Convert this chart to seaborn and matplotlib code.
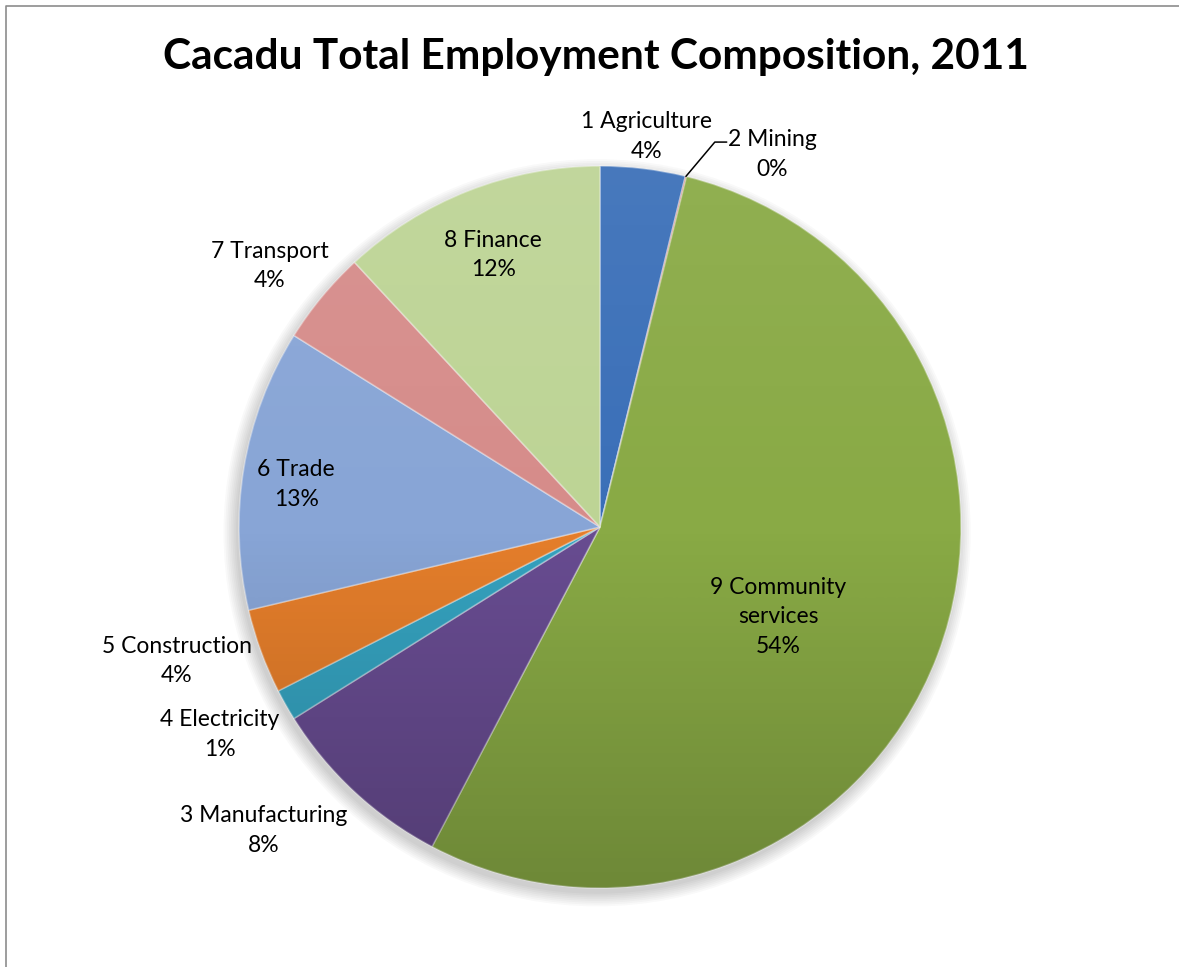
import numpy as np
import matplotlib
matplotlib.use("Agg")
import matplotlib.pyplot as plt
import seaborn as sns
from matplotlib.patches import Circle
from matplotlib.lines import Line2D

# Employment share by sector, Cacadu 2011 (percent of total)
sectors = ["1 Agriculture", "2 Mining", "9 Community\nservices", "3 Manufacturing",
           "4 Electricity", "5 Construction", "6 Trade", "7 Transport", "8 Finance"]
shares = [3.8, 0.05, 53.85, 8.4, 1.4, 3.8, 12.6, 4.2, 11.9]

colors = ["#3a6fb8", "#c0504d", "#89aa45", "#684c91", "#35a2bf",
          "#e57e2b", "#88a5d6", "#d68c8a", "#bdd495"]

# label placement: distance from centre (pie radii) and clockwise turn
# away from the slice's middle angle (degrees)
label_radius = [1.09, None, 0.553, 1.255, 1.20, 1.23, 0.85, 1.166, 0.81]
label_turn = [0.0, 0.0, 6.0, 5.1, 0.9, 2.6, -1.4, -1.3, 0.0]

sns.set_theme(style="white")
plt.rcParams["font.family"] = ["Lato", "DejaVu Sans"]

W, H, DPI = 1179, 967, 100
fig = plt.figure(figsize=(W / DPI, H / DPI), dpi=DPI)
fig.patch.set_facecolor("white")

# axes fills the figure; one data unit equals the pie radius in pixels
cx, cy, R = 600, 527, 361
ax = fig.add_axes([0, 0, 1, 1])

# soft drop shadow under the pie, towards the lower left
for k in range(8):
    ax.add_patch(Circle((-0.008, -0.016), 1.0 + 0.005 * k, color="black",
                        alpha=0.022, lw=0, zorder=0))

wedges, _ = ax.pie(shares, colors=colors, startangle=90, counterclock=False,
                   radius=1.0, center=(0, 0), frame=True,
                   wedgeprops=dict(edgecolor=(1, 1, 1, 0.35), linewidth=1.2))

# top-lit shading over the whole disc
t = np.linspace(1, 0, 256)
shade = np.zeros((256, 1, 4))
top, bot = 0.07, 0.20
shade[:, 0, :3] = np.where(t[:, None] > 0.5, 1.0, 0.0)
shade[:, 0, 3] = np.where(t > 0.5, (t - 0.5) * 2 * top, (0.5 - t) * 2 * bot)
im = ax.imshow(shade, extent=(-1, 1, -1, 1), origin="upper", aspect="auto",
               interpolation="bilinear", zorder=3)
im.set_clip_path(Circle((0, 0), 1.0, transform=ax.transData))

ax.set_xlim(-cx / R, (W - cx) / R)
ax.set_ylim(-(H - cy) / R, cy / R)
ax.axis("off")

total = sum(shares)
fs = 16.5
ls = 1.5
for i, (w, name, v) in enumerate(zip(wedges, sectors, shares)):
    text = f"{name}\n{round(v / total * 100):.0f}%"
    mid = np.deg2rad((w.theta1 + w.theta2) / 2)
    if label_radius[i] is None:
        # thin slice: label pulled outward with a leader line
        rim = np.array([np.cos(mid), np.sin(mid)])
        elbow = rim + np.array([0.08, 0.095])
        end = elbow + np.array([0.033, 0.0])
        ax.add_line(Line2D([rim[0], elbow[0], end[0]], [rim[1], elbow[1], end[1]],
                           color="black", lw=1.1, zorder=5))
        ax.text(end[0] + 0.127, end[1] - 0.034, text, ha="center", va="center",
                fontsize=fs, color="black", linespacing=ls, zorder=6)
        continue
    ang = mid - np.deg2rad(label_turn[i])
    r = label_radius[i]
    ax.text(r * np.cos(ang), r * np.sin(ang), text, ha="center", va="center",
            fontsize=fs, color="black", linespacing=ls, zorder=6)

fig.text(596 / W, 1 - 57 / H, "Cacadu Total Employment Composition, 2011",
         ha="center", va="center", fontsize=30.5, fontweight="bold", color="black")

# chart frame (left and top edges)
fig.add_artist(Line2D([5.5 / W, 5.5 / W, 1.0], [0.0, 1 - 5.5 / H, 1 - 5.5 / H],
                      transform=fig.transFigure, color="#8c8c8c", lw=1.2))

fig.savefig("out.png", dpi=DPI)
